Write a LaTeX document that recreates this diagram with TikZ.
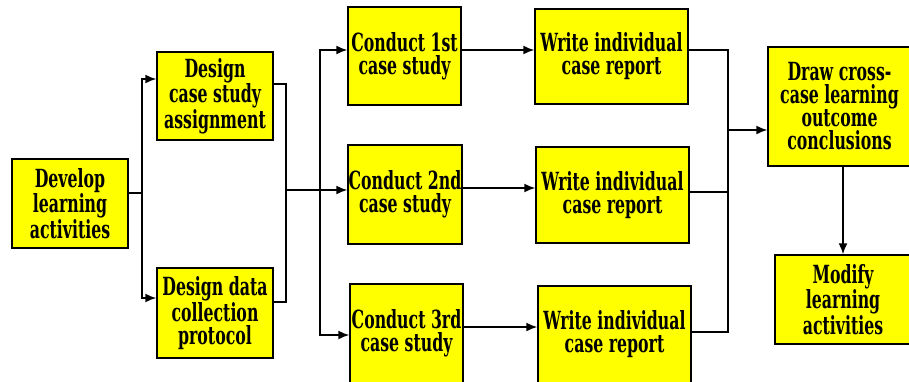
\documentclass[tikz,border=0pt]{standalone}
\usepackage{fontspec}
\setmainfont{DejaVu Serif}[FakeStretch=0.63]
\usepackage{xcolor}
\usetikzlibrary{arrows.meta}
\definecolor{bYellow}{HTML}{FFFF00}

\begin{document}
\begin{tikzpicture}[x=1pt,y=-1pt]
    \pgfmathsetmacro{\lw}{1.5}	%line width
    \tikzset{
        stepbox/.style={draw=black, fill=bYellow, line width=\lw pt, align=center, inner sep=0pt, font=\bfseries\fontsize{25}{23}\selectfont},
        link/.style={line width=\lw pt},
        arr/.style={link, -{Latex[length=11pt,width=9pt]}}
    };
    \useasboundingbox (0,0) rectangle (909,381);
    \clip (0,0) rectangle (909,381);
    % boxes
    \node[stepbox, minimum width=116pt, minimum height=89pt] (dev) at (70,203.5) {Develop\\learning\\activities};
    \node[stepbox, minimum width=116pt, minimum height=88pt] (dcs) at (215,96) {Design\\case study\\assignment};
    \node[stepbox, minimum width=116pt, minimum height=90pt] (ddc) at (215,313) {Design data\\collection\\protocol};
    \node[stepbox, minimum width=113pt, minimum height=98pt] (c1) at (404.5,56) {Conduct 1st\\case study};
    \node[stepbox, minimum width=114pt, minimum height=99pt] (c2) at (405,194.5) {Conduct 2nd\\case study};
    \node[stepbox, minimum width=113pt, minimum height=99pt] (c3) at (406.5,333.5) {Conduct 3rd\\case study};
    \node[stepbox, minimum width=153pt, minimum height=95pt] (w1) at (611.5,56.5) {Write individual\\case report};
    \node[stepbox, minimum width=153pt, minimum height=96pt] (w2) at (612.5,195) {Write individual\\case report};
    \node[stepbox, minimum width=153pt, minimum height=97pt] (w3) at (614.5,334.5) {Write individual\\case report};
    \node[stepbox, minimum width=143pt, minimum height=119pt] (dr) at (839.5,106.5) {Draw cross-\\case learning\\outcome\\conclusions};
    \node[stepbox, minimum width=136pt, minimum height=89pt] (mod) at (843,299.5) {Modify\\learning\\activities};
    % split and merge points
    \coordinate (s1) at (142,193);
    \coordinate (m1) at (286,190);
    \coordinate (s2) at (320,190);
    \coordinate (m2) at (728,130);
    % connectors
    \draw[link] ([yshift=10.5pt]dev.east) -- (s1);
    \draw[arr] (s1) |- ([yshift=17pt]dcs.west);
    \draw[arr] (s1) |- ([yshift=15pt]ddc.west);
    \draw[link] ([yshift=12pt]dcs.east) -| (m1) |- ([yshift=11pt]ddc.east);
    \draw[link] (m1) -- (s2);
    \draw[arr] (s2) |- ([yshift=6pt]c1.west);
    \draw[arr] (s2) -- ([yshift=4.5pt]c2.west);
    \draw[arr] (s2) |- ([yshift=-1.5pt]c3.west);
    \foreach \i/\d in {1/6,2/6.5,3/6.5}
        \draw[arr] ([yshift=\d pt]c\i.east) -- ([yshift=\d pt]c\i.east -| w\i.west);
    \foreach \i/\d in {1/6.5,2/3,3/2.5}
        \draw[link] ([yshift=\d pt]w\i.east) -| (m2);
    \draw[arr] (m2) -- (m2 -| dr.west);
    \draw[arr] (dr.south -| mod.north) -- (mod.north);
\end{tikzpicture}
\end{document}
